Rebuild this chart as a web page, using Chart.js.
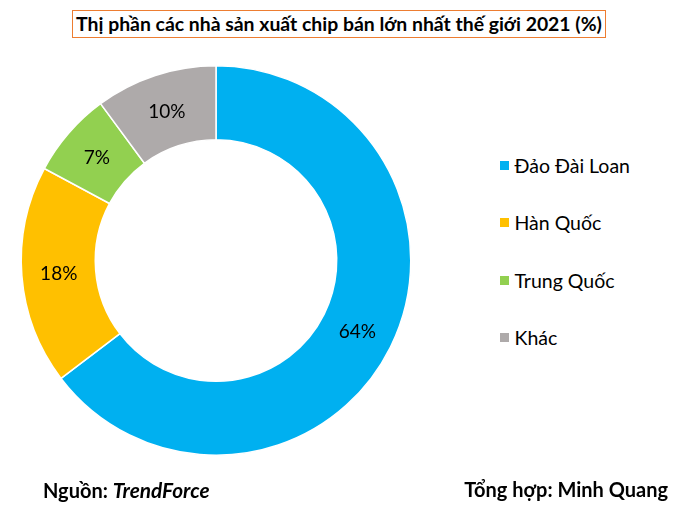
<!DOCTYPE html>
<html>
<head>
<meta charset="utf-8">
<script src="https://cdn.jsdelivr.net/npm/chart.js@4.4.0/dist/chart.umd.min.js"></script>
<style>
    body {
        margin: 0;
        width: 700px;
        height: 508px;
        position: relative;
        overflow: hidden;
        background: #fff;
        font-family: Lato, "Noto Sans", sans-serif;
        color: #000;
    }
    #chart-title {
        position: absolute;
        left: 72px;
        top: 10px;
        width: 534px;
        height: 28px;
        box-sizing: border-box;
        border: 1.5px solid #ED7D31;
        font-size: 19.4px;
        font-weight: bold;
        line-height: 25px;
        text-align: center;
        white-space: nowrap;
    }
    #chart-box {
        position: absolute;
        left: 0;
        top: 0;
    }
    #legend {
        position: absolute;
        left: 499.5px;
        top: 137.3px;
        margin: 0;
        padding: 0;
        list-style: none;
    }
    #legend li {
        display: flex;
        align-items: center;
        height: 57.1px;
        font-size: 19.5px;
        white-space: nowrap;
    }
    #legend li span {
        display: inline-block;
        width: 9px;
        height: 9px;
        margin-right: 6px;
    }
    .footer {
        position: absolute;
        top: 477px;
        font-size: 20px;
        font-weight: bold;
        line-height: 25px;
        white-space: nowrap;
    }
    #source { left: 43px; }
    #credit { right: 32px; }
    #source i { font-size: 20.8px; }
</style>
</head>
<body>
<div id="chart-title">Thị phần các nhà sản xuất chip bán lớn nhất thế giới 2021 (%)</div>
<div id="chart-box"><canvas id="share-chart" width="432" height="508"></canvas></div>
<ul id="legend"></ul>
<div class="footer" id="source">Nguồn: <i>TrendForce</i></div>
<div class="footer" id="credit">Tổng hợp: Minh Quang</div>

<script>
const makers = ["Đảo Đài Loan", "Hàn Quốc", "Trung Quốc", "Khác"]
const shares = [64, 18, 7, 10]
const sliceColors = ["#00B0F0", "#FFC000", "#92D050", "#AEAAAA"]

// % labels in the middle of each ring slice
const sliceLabels = {
    id: 'sliceLabels',
    afterDatasetsDraw(chart) {
        const ctx = chart.ctx
        const meta = chart.getDatasetMeta(0)
        ctx.save()
        ctx.font = '19px Lato'
        ctx.fillStyle = '#000'
        ctx.textAlign = 'center'
        ctx.textBaseline = 'middle'
        meta.data.forEach((arc, i) => {
            let pos = arc.getCenterPoint()
            ctx.fillText(shares[i] + '%', pos.x, pos.y + 1)
        })
        ctx.restore()
    }
}

const chart = new Chart(document.getElementById('share-chart').getContext('2d'), {
    type: 'doughnut',
    data: {
        labels: makers,
        datasets: [{
            data: shares,
            backgroundColor: sliceColors,
            borderColor: '#fff',
            borderWidth: 1.5
        }]
    },
    options: {
        responsive: false,
        animation: false,
        cutout: '62%',
        layout: {
            padding: { top: 65, bottom: 52, left: 20, right: 20 }
        },
        plugins: {
            legend: { display: false },
            tooltip: { enabled: false }
        }
    },
    plugins: [sliceLabels]
})

// html legend built from the chart's own legend items
let items = chart.options.plugins.legend.labels.generateLabels(chart)
items.map((item) => {
    let li = document.createElement('li')
    li.innerHTML = `<span style="background:${item.fillStyle}"></span>${item.text}`
    document.getElementById('legend').appendChild(li)
})
</script>
</body>
</html>
